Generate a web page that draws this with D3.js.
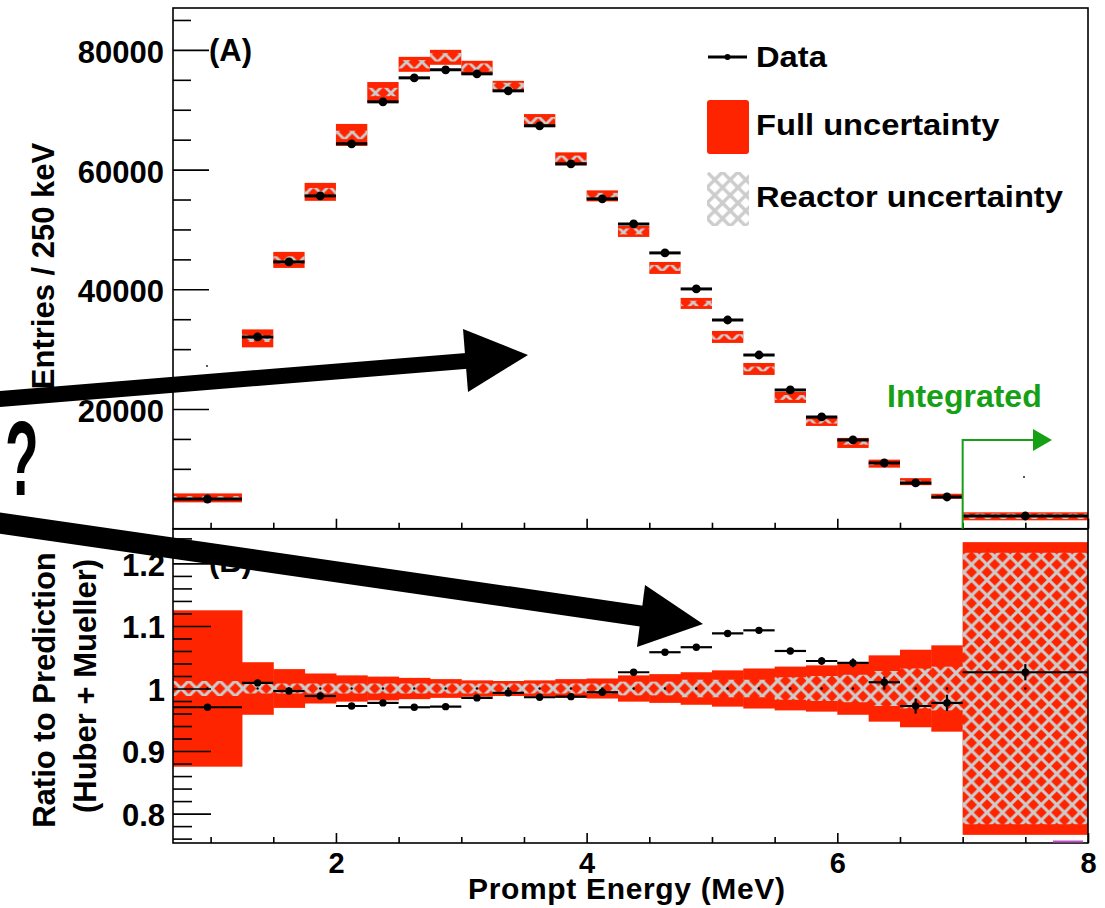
<!DOCTYPE html>
<html><head><meta charset="utf-8">
<script src="https://cdn.jsdelivr.net/npm/d3@7"></script>
<style>
body{margin:0;background:#fff}
svg{display:block}
text{font-family:"Liberation Sans",Arial,Helvetica,sans-serif;font-weight:bold;fill:#000}
</style></head>
<body><svg id="c" width="1105" height="908"></svg>
<script>
// ---- data ----
const binLow  = [0.7,1.25,1.5,1.75,2.0,2.25,2.5,2.75,3.0,3.25,3.5,3.75,4.0,4.25,4.5,4.75,5.0,5.25,5.5,5.75,6.0,6.25,6.5,6.75,7.0];
const binHigh = [1.25,1.5,1.75,2.0,2.25,2.5,2.75,3.0,3.25,3.5,3.75,4.0,4.25,4.5,4.75,5.0,5.25,5.5,5.75,6.0,6.25,6.5,6.75,7.0,8.0];
const binCenter = [0.975,1.375,1.625,1.875,2.125,2.375,2.625,2.875,3.125,3.375,3.625,3.875,4.125,4.375,4.625,4.875,5.125,5.375,5.625,5.875,6.125,6.375,6.625,6.875,7.5];
const dataCounts = [4960,32040,44580,55610,64300,71320,75330,76670,76000,73160,67310,60960,55110,50930,46080,40060,34870,29020,23180,18670,14830,10980,7640,5300,2120];
const predCounts = [5150,31800,44910,56280,65790,72960,77590,78760,77090,73910,68190,61790,55610,49670,43570,37640,32040,26690,21930,17920,14330,10870,7860,5420,2070];
const predFullErr = [750,1500,1340,1500,1840,1670,1250,1250,1090,920,1090,1090,920,920,1000,920,1000,1000,920,750,840,670,590,420,670];
const predReactorErr = [300,600,600,650,700,700,700,700,650,600,600,550,500,500,500,450,450,400,400,350,300,250,200,150,450];
const ratio = [0.970,1.009,0.996,0.988,0.972,0.977,0.970,0.971,0.985,0.993,0.986,0.987,0.994,1.026,1.058,1.066,1.088,1.093,1.060,1.044,1.041,1.010,0.972,0.977,1.026];
const ratioErr = [0.004,0.003,0.003,0.003,0.003,0.003,0.003,0.003,0.003,0.003,0.003,0.003,0.003,0.004,0.004,0.004,0.004,0.005,0.005,0.006,0.007,0.009,0.012,0.013,0.013];
const fullBand = [0.125,0.042,0.031,0.024,0.021,0.019,0.017,0.015,0.013,0.012,0.013,0.015,0.016,0.021,0.023,0.026,0.029,0.032,0.035,0.037,0.042,0.053,0.062,0.069,0.234];
const reactorBand = [0.012,0.008,0.008,0.008,0.008,0.008,0.008,0.008,0.008,0.008,0.008,0.008,0.008,0.011,0.011,0.014,0.014,0.014,0.018,0.020,0.022,0.028,0.032,0.035,0.217];
const topYMajor = [20000,40000,60000,80000];
const topYLabels = ["20000","40000","60000","80000"];
const botYMajor = [0.8,0.9,1.0,1.1,1.2];
const botYLabels = ["0.8","0.9","1","1.1","1.2"];
const xMajor = [2,4,6,8];
const xLabels = ["2","4","6","8"];
const legendLabels = ["Data","Full uncertainty","Reactor uncertainty"];

// ---- layout ----
const L=173,R=1088,T1=8,B1=528.7,T2=529,B2=843;
const RED="#ff2400", HATCH="#cccccc", GREEN="#16a016";
const svg=d3.select("#c");
const x=d3.scaleLinear().domain([0.7,8]).range([L,R]);
const yTop=d3.scaleLinear().domain([0,87000]).range([B1,T1]);
const yBot=d3.scaleLinear().domain([0.753,1.255]).range([B2,T2]);
const idx=d3.range(binLow.length);

// hatch patterns
const P=15.5;
const defs=svg.append("defs");
function hatch(id,ox,oy,sw){
  const p=defs.append("pattern").attr("id",id).attr("patternUnits","userSpaceOnUse")
    .attr("width",P).attr("height",P).attr("x",ox).attr("y",oy);
  p.append("path").attr("d",`M0,0L${P},${P}M${-P/2},${P/2}L${P/2},${P*1.5}M${P/2},${-P/2}L${P*1.5},${P/2}
    M0,${P}L${P},0M${-P/2},${P/2}L${P/2},${-P/2}M${P/2},${P*1.5}L${P*1.5},${P/2}`)
    .attr("stroke",HATCH).attr("stroke-width",sw).attr("fill","none");
}
hatch("hb",367-P/2,yBot(1)-P/2,3);
hatch("ht",360,0,2.8);
hatch("hl",707,172,3.4);
defs.append("clipPath").attr("id","clipB").append("rect").attr("x",L).attr("y",T2).attr("width",R-L).attr("height",B2-T2);

// ---- top panel ----
const gT=svg.append("g");
gT.selectAll("rect.full").data(idx).join("rect")
  .attr("x",i=>x(binLow[i])).attr("width",i=>x(binHigh[i])-x(binLow[i]))
  .attr("y",i=>yTop(predCounts[i]+predFullErr[i]))
  .attr("height",i=>yTop(predCounts[i]-predFullErr[i])-yTop(predCounts[i]+predFullErr[i]))
  .attr("fill",RED);
gT.selectAll("rect.re").data(idx).join("rect")
  .attr("x",i=>x(binLow[i])).attr("width",i=>x(binHigh[i])-x(binLow[i]))
  .attr("y",i=>yTop(predCounts[i]+predReactorErr[i]))
  .attr("height",i=>yTop(predCounts[i]-predReactorErr[i])-yTop(predCounts[i]+predReactorErr[i]))
  .attr("fill","url(#ht)");
gT.selectAll("line.d").data(idx).join("line")
  .attr("x1",i=>x(binLow[i])).attr("x2",i=>x(binHigh[i]))
  .attr("y1",i=>yTop(dataCounts[i])).attr("y2",i=>yTop(dataCounts[i]))
  .attr("stroke","#000").attr("stroke-width",3);
gT.selectAll("circle").data(idx).join("circle")
  .attr("cx",i=>x(binCenter[i])).attr("cy",i=>yTop(dataCounts[i])).attr("r",4.4).attr("fill","#000");

// ---- bottom panel ----
const gB=svg.append("g").attr("clip-path","url(#clipB)");
gB.selectAll("rect.full").data(idx).join("rect")
  .attr("x",i=>x(binLow[i])).attr("width",i=>x(binHigh[i])-x(binLow[i])+0.5)
  .attr("y",i=>yBot(1+fullBand[i])).attr("height",i=>yBot(1-fullBand[i])-yBot(1+fullBand[i]))
  .attr("fill",RED);
gB.selectAll("rect.re").data(idx).join("rect")
  .attr("x",i=>x(binLow[i])).attr("width",i=>x(binHigh[i])-x(binLow[i])+0.5)
  .attr("y",i=>yBot(1+reactorBand[i])).attr("height",i=>yBot(1-reactorBand[i])-yBot(1+reactorBand[i]))
  .attr("fill","url(#hb)");
gB.selectAll("circle.p").data(idx).join("circle")
  .attr("cx",i=>x(binCenter[i])).attr("cy",yBot(1)).attr("r",1.2).attr("fill","#000");
gB.selectAll("line.d").data(idx).join("line")
  .attr("x1",i=>x(binLow[i])).attr("x2",i=>x(binHigh[i]))
  .attr("y1",i=>yBot(ratio[i])).attr("y2",i=>yBot(ratio[i]))
  .attr("stroke","#000").attr("stroke-width",2.2);
gB.selectAll("line.e").data(idx).join("line")
  .attr("x1",i=>x(binCenter[i])).attr("x2",i=>x(binCenter[i]))
  .attr("y1",i=>yBot(ratio[i]-ratioErr[i])).attr("y2",i=>yBot(ratio[i]+ratioErr[i]))
  .attr("stroke","#000").attr("stroke-width",2.2);
gB.selectAll("circle.d").data(idx).join("circle")
  .attr("cx",i=>x(binCenter[i])).attr("cy",i=>yBot(ratio[i])).attr("r",3.7).attr("fill","#000");

// ---- axes ----
function styleAxis(g){
  g.attr("font-size",null).attr("font-family",null);
  g.select(".domain").remove();
  g.selectAll("line").attr("stroke","#000").attr("stroke-width",1.6);
  g.selectAll("text").style("font-size","31px");
}
const topMinor=d3.range(5000,87000,5000).filter(v=>!topYMajor.includes(v));
svg.append("g").attr("transform",`translate(${L},0)`)
  .call(d3.axisLeft(yTop).tickValues(topYMajor).tickSize(-36).tickPadding(9).tickFormat((d,i)=>topYLabels[i]))
  .call(styleAxis).selectAll("text").attr("dy","0.40em");
svg.append("g").attr("transform",`translate(${L},0)`)
  .call(d3.axisLeft(yTop).tickValues(topMinor).tickSize(-18).tickFormat(""))
  .call(styleAxis);
const botMinor=d3.range(0.76,1.2501,0.02).filter(v=>!botYMajor.some(m=>Math.abs(m-v)<1e-6));
svg.append("g").attr("transform",`translate(${L},0)`)
  .call(d3.axisLeft(yBot).tickValues(botYMajor).tickSize(-38).tickPadding(8).tickFormat((d,i)=>botYLabels[i]))
  .call(styleAxis).selectAll("text").attr("dy","0.38em");
svg.append("g").attr("transform",`translate(${L},0)`)
  .call(d3.axisLeft(yBot).tickValues(botMinor).tickSize(-19).tickFormat(""))
  .call(styleAxis);
const xMinor=d3.range(1.0,8.0,0.5).filter(v=>!xMajor.includes(v));
[B1,B2].forEach((yy,k)=>{
  const g=svg.append("g").attr("transform",`translate(0,${yy})`)
    .call(d3.axisBottom(x).tickValues(xMajor).tickSize(-10).tickPadding(9).tickFormat(k===1?((d,i)=>xLabels[i]):""))
    .call(styleAxis);
  g.selectAll("text").style("font-size","29px");
  svg.append("g").attr("transform",`translate(0,${yy})`)
    .call(d3.axisBottom(x).tickValues(xMinor).tickSize(-6).tickFormat(""))
    .call(styleAxis);
});

// frames
svg.append("rect").attr("x",L).attr("y",T1).attr("width",R-L).attr("height",B1-T1).attr("fill","none").attr("stroke","#000").attr("stroke-width",1.6);
svg.append("rect").attr("x",L).attr("y",T2).attr("width",R-L).attr("height",B2-T2).attr("fill","none").attr("stroke","#000").attr("stroke-width",1.6);
svg.append("line").attr("x1",1053).attr("x2",1083).attr("y1",B2-1.5).attr("y2",B2-1.5).attr("stroke","#c050c8").attr("stroke-width",2);

// tiny stray dots
svg.append("circle").attr("cx",207).attr("cy",366).attr("r",1.1).attr("fill","#333");
svg.append("circle").attr("cx",1024).attr("cy",477).attr("r",1.1).attr("fill","#333");

// axis titles
svg.append("text").attr("transform","translate(54,266) rotate(-90)").attr("text-anchor","middle").style("font-size","31px").text("Entries / 250 keV");
svg.append("text").attr("transform","translate(55,690) rotate(-90)").attr("text-anchor","middle").style("font-size","31px").text("Ratio to Prediction");
svg.append("text").attr("transform","translate(96,686) rotate(-90)").attr("text-anchor","middle").style("font-size","31px").text("(Huber + Mueller)");
svg.append("text").attr("x",785).attr("y",899).attr("text-anchor","end").style("font-size","30px")
  .attr("textLength",317).text("Prompt Energy (MeV)");
svg.append("text").attr("x",209).attr("y",61).style("font-size","31px").text("(A)");
svg.append("text").attr("x",209).attr("y",572).style("font-size","31px").text("(B)");

// legend
const lg=svg.append("g");
lg.append("line").attr("x1",708).attr("x2",747).attr("y1",57).attr("y2",57).attr("stroke","#000").attr("stroke-width",3);
lg.append("circle").attr("cx",727.5).attr("cy",57).attr("r",3).attr("fill","#000");
lg.append("rect").attr("x",707).attr("y",100).attr("width",42).attr("height",54).attr("rx",3).attr("fill",RED);
lg.append("rect").attr("x",707).attr("y",172).attr("width",42).attr("height",54).attr("rx",3).attr("fill","#fff");
lg.append("rect").attr("x",707).attr("y",172).attr("width",42).attr("height",54).attr("rx",3).attr("fill","url(#hl)");
[67,135,207].forEach((yy,i)=>lg.append("text").attr("transform",`translate(756,${yy}) scale(1.09,1)`).style("font-size","30px").text(legendLabels[i]));

// integrated marker
svg.append("text").attr("x",887).attr("y",407).style("font-size","32px").style("fill",GREEN).text("Integrated");
svg.append("path").attr("d",`M${x(7.0)},${B1}V440H1036`).attr("fill","none").attr("stroke",GREEN).attr("stroke-width",2);
svg.append("path").attr("d","M1033,429L1052,440L1033,451Z").attr("fill",GREEN);

// annotation arrows and question mark
svg.append("line").attr("x1",-5).attr("y1",399.4).attr("x2",470).attr("y2",360.6).attr("stroke","#000").attr("stroke-width",16);
svg.append("path").attr("d","M463,329L528,355L468,392Z").attr("fill","#000");
svg.append("line").attr("x1",-5).attr("y1",522.3).attr("x2",645).attr("y2",616.6).attr("stroke","#000").attr("stroke-width",21);
svg.append("path").attr("d","M645,585L703,624L637,647Z").attr("fill","#000");
svg.append("text").attr("transform","translate(5,495) scale(0.52,1)").style("font-size","106px").text("?");
</script></body></html>
